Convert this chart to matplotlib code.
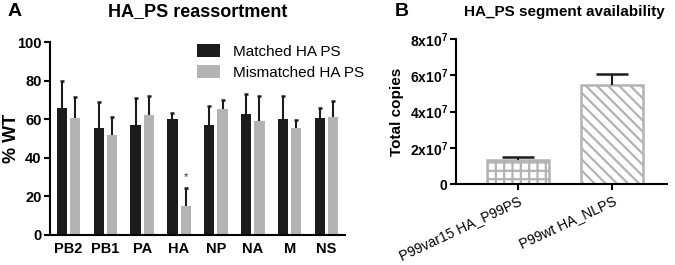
import matplotlib
matplotlib.use("Agg")
import matplotlib.pyplot as plt
import numpy as np

plt.rcParams['font.family'] = ['Liberation Sans', 'DejaVu Sans']
plt.rcParams['mathtext.fontset'] = 'custom'
plt.rcParams['mathtext.rm'] = 'Liberation Sans'
plt.rcParams['mathtext.bf'] = 'Liberation Sans:bold'
plt.rcParams['hatch.linewidth'] = 1.6

# Panel A data
segments = ["PB2", "PB1", "PA", "HA", "NP", "NA", "M", "NS"]
matched = [66, 55.5, 57, 60, 57, 62.5, 60, 60.5]
matched_err = [14, 13.5, 14, 3, 10, 10.5, 12, 5.5]
mismatched = [60.5, 52, 62, 15, 65.5, 59, 55.5, 61]
mismatched_err = [11, 9, 10, 9.5, 4.5, 13, 4, 8.5]

# Panel B data
groups = ["P99var15 HA_P99PS", "P99wt HA_NLPS"]
copies = [1.3e7, 5.45e7]
copies_err = [0.17e7, 0.6e7]
ytick_vals_b = [0, 2e7, 4e7, 6e7, 8e7]
ytick_labels_b = ["0", r"$\mathbf{2x10^{7}}$", r"$\mathbf{4x10^{7}}$",
                  r"$\mathbf{6x10^{7}}$", r"$\mathbf{8x10^{7}}$"]

black = "#1c1c1c"
gray = "#b3b3b3"


def upper_err(ax, xs, ys, errs, capw):
    xs = np.asarray(xs, dtype=float)
    ys = np.asarray(ys, dtype=float)
    errs = np.asarray(errs, dtype=float)
    ax.vlines(xs, ys, ys + errs, color=black, linewidth=1.5, zorder=3)
    ax.plot(xs, ys + errs, ls='none', marker='_', markersize=capw,
            markeredgewidth=1.8, color=black, zorder=3)


fig = plt.figure(figsize=(6.75, 2.65), dpi=100)

# ---- Panel A ----
axA = fig.add_axes([50/675, 1-235/265, (345-50)/675, (235-42)/265])
x = np.arange(len(segments))
w = 0.28
off = 0.18
axA.bar(x - off, matched, w, color=black, label="Matched HA PS")
axA.bar(x + off, mismatched, w, color=gray, label="Mismatched HA PS")
upper_err(axA, x - off, matched, matched_err, 3.5)
upper_err(axA, x + off, mismatched, mismatched_err, 3.5)
axA.set_xlim(-0.5, len(segments) - 0.5)
axA.set_ylim(0, 100)
axA.set_yticks([0, 20, 40, 60, 80, 100])
axA.set_xticks(x)
axA.set_xticklabels(segments, fontweight='bold', fontsize=10.5)
for lab in axA.get_yticklabels():
    lab.set_fontweight('bold')
    lab.set_fontsize(10.5)
axA.tick_params(axis='x', length=0, pad=5)
axA.tick_params(axis='y', length=4, width=1.5, pad=2)
for s in ['top', 'right']:
    axA.spines[s].set_visible(False)
for s in ['left', 'bottom']:
    axA.spines[s].set_linewidth(1.5)
axA.set_ylabel("% WT", fontweight='bold', fontsize=13)
axA.yaxis.set_label_coords(-30/295, 0.5)
axA.text(3 + off, mismatched[3] + mismatched_err[3] + 3, "*", ha='center', va='bottom', fontsize=8, color='#333333')
leg = axA.legend(loc='upper right', bbox_to_anchor=(1.11, 1.06), frameon=False, fontsize=11,
                 handlelength=1.5, handleheight=0.9, handletextpad=0.8, labelspacing=0.4)
fig.text(8/675, 1-12/265, "A", fontsize=14, fontweight='bold', va='center', ha='left')
fig.text(198/675, 1-12/265, "HA_PS reassortment", fontsize=13, fontweight='bold', va='center', ha='center')

# ---- Panel B ----
axB = fig.add_axes([456/675, 1-184/265, (667-456)/675, (184-39)/265])
xb = np.arange(len(groups))
bw = 0.66
hatches = ['++', '\\\\\\']
for i in range(len(groups)):
    axB.bar(xb[i], copies[i], bw, color='white', edgecolor=gray, hatch=hatches[i], linewidth=1.8)
upper_err(axB, xb, copies, copies_err, 23)
axB.set_xlim(-0.66, 1.58)
axB.set_ylim(0, 8e7)
axB.set_yticks(ytick_vals_b)
axB.set_yticklabels(ytick_labels_b)
for lab in axB.get_yticklabels():
    lab.set_fontweight('bold')
    lab.set_fontsize(10)
axB.set_xticks(xb)
axB.set_xticklabels(groups, rotation=25, ha='right', rotation_mode='anchor', fontsize=10)
axB.tick_params(axis='x', length=4, width=1.5, pad=3)
axB.tick_params(axis='y', length=4, width=1.5, pad=2)
for s in ['top', 'right']:
    axB.spines[s].set_visible(False)
for s in ['left', 'bottom']:
    axB.spines[s].set_linewidth(1.5)
axB.set_ylabel("Total copies", fontweight='bold', fontsize=11, labelpad=4)
fig.text(395/675, 1-12/265, "B", fontsize=14, fontweight='bold', va='center', ha='left')
fig.text(564/675, 1-12/265, "HA_PS segment availability", fontsize=11, fontweight='bold', va='center', ha='center')

fig.savefig("out.png", dpi=100)
